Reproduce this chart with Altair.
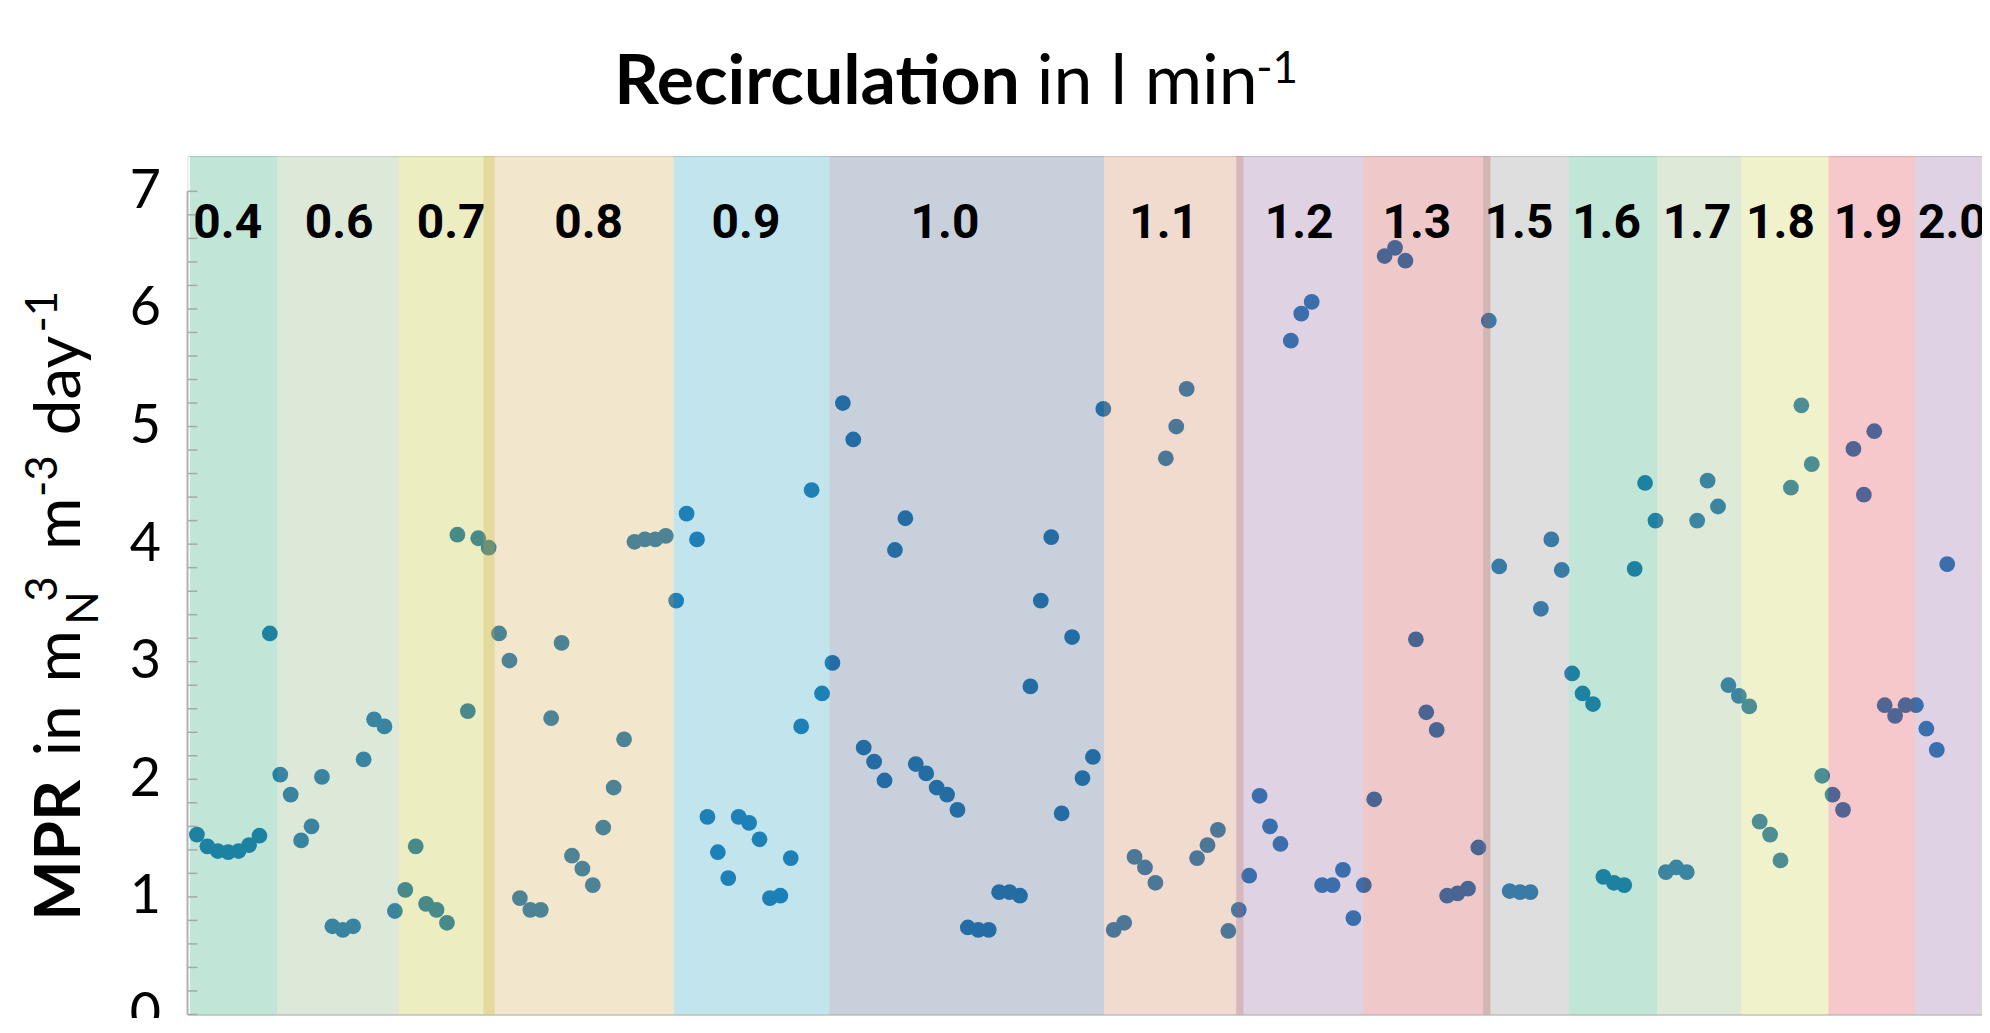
import altair as alt
import pandas as pd

# ---------------- data ----------------
mpr_values = [
    1.53, 1.43, 1.39, 1.38, 1.39, 1.44, 1.52, 3.24,
    2.04, 1.87, 1.48, 1.60, 2.02, 0.75, 0.72, 0.75, 2.17, 2.51, 2.45, 0.88,
    1.06, 1.43, 0.94, 0.89, 0.78, 4.08, 2.58, 4.05, 3.97,
    3.24, 3.01, 0.99, 0.89, 0.89, 2.52, 3.16, 1.35, 1.24, 1.10, 1.59, 1.93, 2.34, 4.02, 4.04, 4.04, 4.07, 3.52,
    4.26, 4.04, 1.68, 1.38, 1.16, 1.68, 1.63, 1.49, 0.99, 1.01, 1.33, 2.45, 4.46, 2.73, 2.99,
    5.20, 4.89, 2.27, 2.15, 1.99, 3.95, 4.22, 2.13, 2.05, 1.93, 1.87, 1.74, 0.74, 0.72, 0.72,
    1.04, 1.04, 1.01, 2.79, 3.52, 4.06, 1.71, 3.21, 2.01, 2.19, 5.15,
    0.72, 0.78, 1.34, 1.25, 1.12, 4.73, 5.00, 5.32, 1.33, 1.44, 1.57, 0.71, 0.89,
    1.18, 1.86, 1.60, 1.45, 5.73, 5.96, 6.06, 1.10, 1.10, 1.23, 0.82, 1.10,
    1.83, 6.45, 6.52, 6.41, 3.19, 2.57, 2.42, 1.01, 1.03, 1.07, 1.42, 5.90,
    3.81, 1.05, 1.04, 1.04, 3.45, 4.04, 3.78,
    2.90, 2.73, 2.64, 1.17, 1.12, 1.10, 3.79, 4.52, 4.20,
    1.21, 1.25, 1.21, 4.20, 4.54, 4.32, 2.80, 2.71, 2.62,
    1.64, 1.53, 1.31, 4.48, 5.18, 4.68, 2.03,
    1.87, 1.74, 4.81, 4.42, 4.96, 2.63, 2.54, 2.63, 2.63,
    2.43, 2.25, 3.83,
]
sample_index = list(range(len(mpr_values)))

band_labels = ["0.4", "0.6", "0.7", "0.8", "0.9", "1.0", "1.1", "1.2",
               "1.3", "1.5", "1.6", "1.7", "1.8", "1.9", "2.0"]
band_start = [-0.68, 7.73, 19.38, 27.5, 45.76, 60.72, 87.06, 99.76,
              111.94, 123.46, 131.66, 140.17, 148.25, 156.6, 164.9]
band_end = [7.73, 19.38, 28.57, 45.76, 60.72, 87.06, 100.45, 111.94,
            124.16, 131.66, 140.17, 148.25, 156.6, 164.9, 172.0]
band_label_pos = [2.96, 13.65, 24.4, 37.6, 52.7, 71.8, 92.8, 105.8,
                  117.1, 126.9, 135.3, 144.0, 152.0, 160.4, 168.5]
band_colors = ["#19a26f", "#81ae6f", "#b9bc16", "#cfa642", "#199bbc", "#33517a",
               "#c77a4a", "#895897", "#c43737", "#858585", "#19a26f", "#88ad6e",
               "#c7cf3e", "#de333e", "#85589b"]

y_ticks_major = [0, 1, 2, 3, 4, 5, 6, 7]
y_ticks_minor = [round(i * 0.2, 1) for i in range(36)]

# ---------------- styling ----------------
FONT = "Lato"
LABEL_FONT = "Roboto"
X_DOMAIN = [-0.909, 171.34]
Y_DOMAIN = [0, 7.3]

pts = pd.DataFrame({"i": sample_index, "mpr": mpr_values})
bands = pd.DataFrame({"label": band_labels, "start": band_start, "end": band_end,
                      "col": band_colors, "pos": band_label_pos})
ticks = pd.DataFrame({"v": y_ticks_minor})

xs = alt.Scale(domain=X_DOMAIN, nice=False, zero=False)
ys = alt.Scale(domain=Y_DOMAIN, nice=False, zero=True)

points = alt.Chart(pts).mark_circle(size=250, opacity=1, color="#1f77b4").encode(
    x=alt.X("i:Q", scale=xs,
            axis=alt.Axis(labels=False, ticks=False, grid=False, title=None,
                          domain=True, domainColor="#c4c4c4", domainWidth=1.5)),
    y=alt.Y("mpr:Q", scale=ys,
            axis=alt.Axis(values=y_ticks_major, ticks=False, grid=False, domain=False,
                          title=None, labelFont=FONT, labelFontSize=54,
                          labelColor="black", labelPadding=27, format="d")),
)

band_rects = alt.Chart(bands).mark_rect(opacity=0.27).encode(
    x=alt.X("start:Q", scale=xs),
    x2="end:Q",
    y=alt.datum(0),
    y2=alt.datum(7.3),
    color=alt.Color("col:N", scale=None),
)

tick_rules = alt.Chart(ticks).mark_rule(color="#a8a8a8", strokeWidth=1.5).encode(
    y=alt.Y("v:Q", scale=ys), x=alt.value(0), x2=alt.value(10)
)

axis_line = alt.Chart(pd.DataFrame({"a": [0], "b": [7]})).mark_rule(
    color="#b4b4b4", strokeWidth=2
).encode(x=alt.value(0), y=alt.Y("a:Q", scale=ys), y2="b:Q")

band_text = alt.Chart(bands).mark_text(
    font=LABEL_FONT, fontSize=48, fontWeight="bold", color="black",
    align="center", baseline="alphabetic"
).encode(x=alt.X("pos:Q", scale=xs), y=alt.value(82), text="label:N")


def piece(text, x, y, size, bold=False, angle=0):
    return alt.Chart(pd.DataFrame({"t": [text]})).mark_text(
        font=FONT, fontSize=size, fontWeight="bold" if bold else "normal",
        color="black", align="left", baseline="alphabetic", angle=angle
    ).encode(x=alt.value(x), y=alt.value(y), text="t:N")


title_parts = [
    piece("Recirculation", 428, -52, 70, bold=True),
    piece("in l min", 852, -52, 70),
    piece("-1", 1072, -73, 44),
]

ytitle_parts = [
    piece("MPR", -108, 767, 64, bold=True, angle=270),
    piece("in", -108, 602, 64, angle=270),
    piece("m", -108, 528, 64, angle=270),
    piece("N", -90, 470, 44, angle=270),
    piece("3", -131, 447, 44, angle=270),
    piece("m", -108, 395, 64, angle=270),
    piece("-3", -131, 342, 44, angle=270),
    piece("day", -108, 280, 64, angle=270),
    piece("-1", -131, 177, 44, angle=270),
]

chart = alt.layer(
    points, band_rects, tick_rules, axis_line, band_text, *title_parts, *ytitle_parts
).properties(
    width=1800, height=861,
    autosize=alt.AutoSizeParams(type="none"),
    padding={"left": 180, "top": 147, "right": 0, "bottom": 2},
).configure_view(stroke=None).configure(background="white")

chart.save("out.html", embed_options={"renderer": "svg", "actions": False})
